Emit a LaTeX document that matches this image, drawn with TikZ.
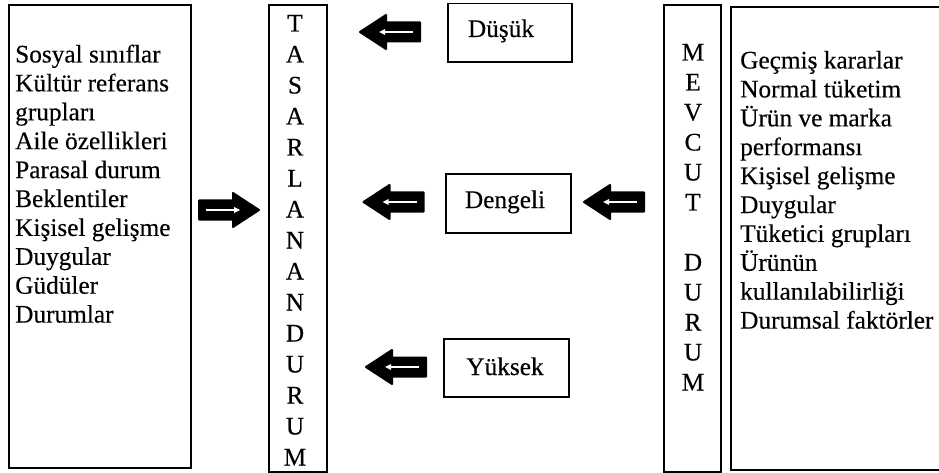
\documentclass[tikz,border=0pt]{standalone}
\usepackage{fontspec}
\setmainfont{Liberation Serif}
\newfontfamily\heavyserif[FakeBold=0.3]{Liberation Serif}
\tikzset{
  frame/.style={draw=black, line width=1.3pt, inner sep=0pt, fill=none},
  txt/.style={inner sep=0pt, font=\heavyserif\fontsize{25.3}{28.9}\selectfont, anchor=base west},
  letter/.style={inner sep=0pt, font=\heavyserif\fontsize{25.3}{28.9}\selectfont, anchor=base},
  lbl/.style={inner sep=0pt, font=\heavyserif\fontsize{25.3}{28.9}\selectfont, anchor=base},
  blockarrow/.style={fill=black, draw=black, line width=2pt, line join=round},
  innerline/.style={draw=white, line width=2.4pt},
  innertip/.style={fill=white}
}
\begin{document}
\begin{tikzpicture}[x=1pt, y=-1pt]
\useasboundingbox (0,0) rectangle (939,473);
% big boxes
\node[frame, minimum width=182pt, minimum height=463pt] (leftbox) at (100,236.5) {};
\node[frame, minimum width=58pt, minimum height=467pt] (tasbox) at (298,238.5) {};
\node[frame, minimum width=57pt, minimum height=467pt] (mevbox) at (692.5,238.5) {};
\node[frame, minimum width=214pt, minimum height=463pt] (rightbox) at (838,238.5) {};
% small boxes
\node[frame, minimum width=124pt, minimum height=58.5pt] (dusukbox) at (510,32.75) {};
\node[frame, minimum width=125pt, minimum height=59pt] (dengbox) at (508.5,203.5) {};
\node[frame, minimum width=125pt, minimum height=58pt] (yukbox) at (506.5,368) {};
\node[lbl] (dusuk) at (501,37) {Düşük};
\node[lbl] (dengeli) at (505,208) {Dengeli};
\node[lbl] (yuksek) at (505,375) {Yüksek};
% left list
\foreach \t [count=\i] in {Sosyal sınıflar, Kültür referans, grupları, Aile özellikleri, Parasal durum, Beklentiler, Kişisel gelişme, Duygular, Güdüler, Durumlar}
  \node[txt] (l\i) at (15, 62.5+28.9*\i-28.9) {\t};
% right list
\foreach \t [count=\i] in {Geçmiş kararlar, Normal tüketim, Ürün ve marka, performansı, Kişisel gelişme, Duygular, Tüketici grupları, Ürünün, kullanılabilirliği, Durumsal faktörler}
  \node[txt] (r\i) at (740, 68.5+28.9*\i-28.9) {\t};
% vertical letters
\foreach \c [count=\i] in {T,A,S,A,R,L,A,N,A,N,D,U,R,U,M}
  \node[letter] (t\i) at (295, 31.5+31*\i-31) {\c};
\foreach \c [count=\i] in {M,E,V,C,U,T}
  \node[letter] (m\i) at (693, 60.5+30*\i-30) {\c};
\foreach \c [count=\i] in {D,U,R,U,M}
  \node[letter] (d\i) at (693, 270.5+30*\i-30) {\c};
% arrows (block arrows pointing left, one pointing right)
\coordinate (a1) at (390,32);
\coordinate (a2) at (393.5,202);
\coordinate (a3) at (614,202);
\coordinate (a4) at (396,367);
\coordinate (a5) at (229,210);
\foreach \a in {a1,a2,a3,a4} {
  \begin{scope}[shift={(\a)}]
    \path[blockarrow] (-30,0) -- (-4,-17) -- (-4,-9.5) -- (30,-9.5) -- (30,9.5) -- (-4,9.5) -- (-4,17) -- cycle;
    \path[innerline] (-6,0) -- (23,0);
    \path[innertip] (-11,0) -- (-5,-3) -- (-5,3) -- cycle;
  \end{scope}
}
\begin{scope}[shift={(a5)}, xscale=-1]
  \path[blockarrow] (-30,0) -- (-4,-17) -- (-4,-9.5) -- (30,-9.5) -- (30,9.5) -- (-4,9.5) -- (-4,17) -- cycle;
  \path[innerline] (-6,0) -- (23,0);
  \path[innertip] (-11,0) -- (-5,-3) -- (-5,3) -- cycle;
\end{scope}
\end{tikzpicture}
\end{document}
